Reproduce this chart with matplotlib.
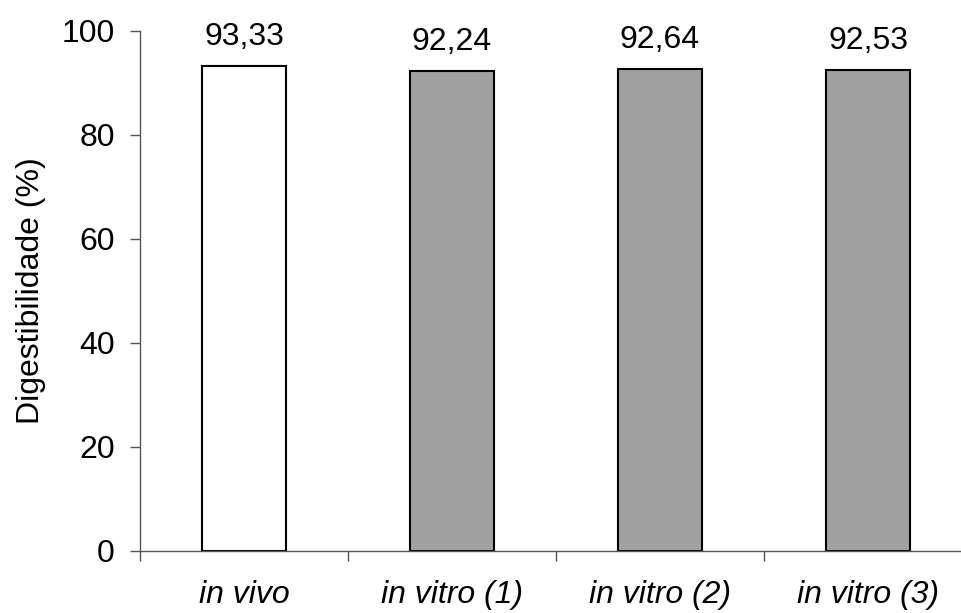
import numpy as np
import matplotlib.pyplot as plt

# values
categories = ["in vivo", "in vitro (1)", "in vitro (2)", "in vitro (3)"]
values = [93.33, 92.24, 92.64, 92.53]
labels = ["93,33", "92,24", "92,64", "92,53"]
colors = ["white", "#a0a0a0", "#a0a0a0", "#a0a0a0"]

plt.rcParams["font.family"] = ["Liberation Sans", "DejaVu Sans"]

fig = plt.figure(figsize=(9.61, 6.13), dpi=100)
ax = fig.add_axes([140 / 961, 62 / 613, 821 / 961, 520 / 613])

x = np.arange(len(categories))
bars = ax.bar(x, values, width=0.404, color=colors, edgecolor="black", linewidth=1.5)

for xi, v, lab in zip(x, values, labels):
    ax.annotate(lab, (xi, v), xytext=(0, 10), textcoords="offset points",
                ha="center", va="bottom", fontsize=23)

ax.set_xlim(-0.5, (961 - 140) / 208 - 0.5)
ax.set_ylim(0, 100)
ax.set_yticks([0, 20, 40, 60, 80, 100])
ax.tick_params(axis="y", labelsize=23, length=7, width=1, color="#555555", pad=11)

ax.set_xticks(x)
ax.set_xticklabels(categories, fontsize=23, style="italic")
ax.tick_params(axis="x", which="major", length=0, pad=21)
ax.set_xticks(np.arange(-0.5, 3.0, 1.0), minor=True)
ax.tick_params(axis="x", which="minor", length=7, width=1, color="#555555", direction="out")

ax.set_ylabel("Digestibilidade (%)", fontsize=23, labelpad=11)

for side in ["top", "right"]:
    ax.spines[side].set_visible(False)
for side in ["left", "bottom"]:
    ax.spines[side].set_color("#555555")
    ax.spines[side].set_linewidth(1)

fig.savefig("out.png", dpi=100)
